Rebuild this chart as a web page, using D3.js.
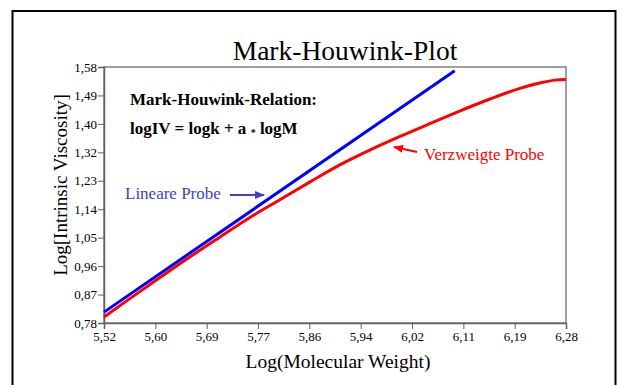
<!DOCTYPE html>
<html>
<head>
<meta charset="utf-8">
<script src="https://cdn.jsdelivr.net/npm/d3@7/dist/d3.min.js"></script>
<style>
  body { margin: 0; background: #fff; }
  text { font-family: "Liberation Serif", "Times New Roman", serif; }
</style>
</head>
<body>
<div id="chart-area"></div>
<script>
// tick labels as printed (german decimal comma)
var xTickLabels = ["5,52","5,60","5,69","5,77","5,86","5,94","6,02","6,11","6,19","6,28"];
var yTickLabels = ["0,78","0,87","0,96","1,05","1,14","1,23","1,32","1,40","1,49","1,58"];

// Lineare Probe (straight line)
var linearLogM  = [5.520, 6.097];
var linearLogIV = [0.814, 1.568];

// Verzweigte Probe
var branchedLogM  = [5.520, 5.563, 5.612, 5.661, 5.711, 5.760, 5.810, 5.859, 5.908,
                     5.958, 6.007, 6.056, 6.106, 6.155, 6.204, 6.237, 6.262, 6.280];
var branchedLogIV = [0.799, 0.857, 0.922, 0.986, 1.049, 1.110, 1.166, 1.221, 1.274,
                     1.321, 1.363, 1.403, 1.443, 1.480, 1.513, 1.530, 1.539, 1.541];

var width = 617, height = 385;
var margin = {left: 104, right: 51, top: 67, bottom: 62};
var plotW = width - margin.left - margin.right;
var plotH = height - margin.top - margin.bottom;

var svg = d3.select("#chart-area").append("svg")
    .attr("width", width)
    .attr("height", height);

// outer frame
svg.append("rect")
    .attr("x", 12.5).attr("y", 11)
    .attr("width", 603).attr("height", 400)
    .attr("fill", "none")
    .attr("stroke", "#000")
    .attr("stroke-width", 2);

// scales
var x = d3.scaleLinear().domain([5.52, 6.28]).range([margin.left, margin.left + plotW]);
var y = d3.scaleLinear().domain([0.78, 1.58]).range([margin.top + plotH, margin.top]);
var xTicks = d3.scalePoint().domain(xTickLabels).range(x.range());
var yTicks = d3.scalePoint().domain(yTickLabels).range(y.range());

// plot frame (top and right)
svg.append("rect")
    .attr("x", margin.left).attr("y", margin.top)
    .attr("width", plotW).attr("height", plotH)
    .attr("fill", "none")
    .attr("stroke", "#808080")
    .attr("stroke-width", 1.5);

var xAxis = svg.append("g")
    .attr("transform", "translate(0," + (margin.top + plotH) + ")")
    .call(d3.axisBottom(xTicks).tickSize(6).tickPadding(3));
var yAxis = svg.append("g")
    .attr("transform", "translate(" + margin.left + ",0)")
    .call(d3.axisLeft(yTicks).tickSize(6).tickPadding(1));

[xAxis, yAxis].forEach(function(ax){
    ax.select(".domain").attr("stroke", "#606060").attr("stroke-width", 1.5);
    ax.selectAll(".tick line").attr("stroke", "#606060").attr("stroke-width", 1);
    ax.selectAll(".tick text")
        .attr("fill", "#000")
        .attr("font-size", 13)
        .attr("font-family", "Liberation Serif");
});

// lines
var line = d3.line()
    .x(function(d){ return x(d[0]); })
    .y(function(d){ return y(d[1]); })
    .curve(d3.curveMonotoneX);

svg.append("path")
    .datum(d3.zip(branchedLogM, branchedLogIV))
    .attr("d", line)
    .attr("fill", "none")
    .attr("stroke", "#ff0000")
    .attr("stroke-width", 3);

svg.append("path")
    .datum(d3.zip(linearLogM, linearLogIV))
    .attr("d", line)
    .attr("fill", "none")
    .attr("stroke", "#0000ff")
    .attr("stroke-width", 3);

// titles
svg.append("text")
    .attr("x", 345).attr("y", 60)
    .attr("text-anchor", "middle")
    .attr("font-size", 27.5)
    .text("Mark-Houwink-Plot");

svg.append("text")
    .attr("x", 338).attr("y", 368)
    .attr("text-anchor", "middle")
    .attr("font-size", 19.5)
    .text("Log(Molecular Weight)");

svg.append("text")
    .attr("transform", "translate(67,185) rotate(-90)")
    .attr("text-anchor", "middle")
    .attr("font-size", 19)
    .text("Log[Intrinsic Viscosity]");

// relation text
svg.append("text")
    .attr("x", 130).attr("y", 105)
    .attr("font-size", 17).attr("font-weight", "bold")
    .text("Mark-Houwink-Relation:");

var rel = svg.append("text")
    .attr("x", 130).attr("y", 134)
    .attr("font-size", 17).attr("font-weight", "bold");
rel.append("tspan").text("logIV = logk + a ");
rel.append("tspan").attr("font-size", 10).attr("dy", 2).text("*");
rel.append("tspan").attr("dy", -2).text(" logM");

// arrow markers
var defs = svg.append("defs");
function marker(id, color){
    defs.append("marker")
        .attr("id", id)
        .attr("viewBox", "0 0 10 10")
        .attr("refX", 9).attr("refY", 5)
        .attr("markerWidth", 5).attr("markerHeight", 5)
        .attr("markerUnits", "strokeWidth")
        .attr("orient", "auto")
      .append("path")
        .attr("d", "M0,1 L10,5 L0,9 Z")
        .attr("fill", color);
}
marker("arrBlue", "#4040cc");
marker("arrRed", "#ff0000");

// Lineare Probe label
svg.append("text")
    .attr("x", 125).attr("y", 199)
    .attr("font-size", 17)
    .attr("fill", "#4040cc")
    .text("Lineare Probe");
svg.append("line")
    .attr("x1", 230).attr("y1", 195)
    .attr("x2", 264).attr("y2", 195)
    .attr("stroke", "#4040cc").attr("stroke-width", 2)
    .attr("marker-end", "url(#arrBlue)");

// Verzweigte Probe label
svg.append("text")
    .attr("x", 424).attr("y", 160)
    .attr("font-size", 17)
    .attr("fill", "#ff0000")
    .text("Verzweigte Probe");
svg.append("line")
    .attr("x1", 417).attr("y1", 152)
    .attr("x2", 394).attr("y2", 147)
    .attr("stroke", "#ff0000").attr("stroke-width", 2)
    .attr("marker-end", "url(#arrRed)");
</script>
</body>
</html>
